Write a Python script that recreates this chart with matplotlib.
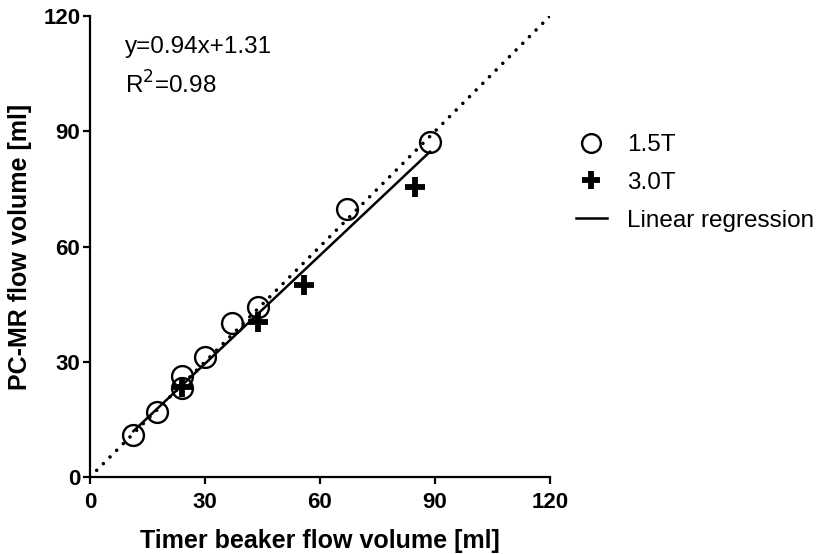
import numpy as np
import matplotlib.pyplot as plt

plt.rcParams['font.family'] = ['Liberation Sans', 'DejaVu Sans']

# 1.5T measurements (timer beaker vs PC-MR), ml
x_15t = [11.3, 17.6, 23.9, 23.9, 30.0, 37.0, 43.7, 67.0, 88.7]
y_15t = [10.9, 17.0, 26.3, 23.1, 31.3, 40.0, 44.3, 69.9, 87.3]

# 3.0T measurements
x_30t = [23.9, 43.7, 55.7, 84.8]
y_30t = [23.5, 40.4, 50.0, 75.6]

slope, intercept = 0.94, 1.31
ticks = [0, 30, 60, 90, 120]

fig = plt.figure(figsize=(8.29, 5.54), dpi=100)
ax = fig.add_axes([0.1086, 0.139, 0.5548, 0.832])

# identity line
ident = np.array([0, 120])
ax.plot(ident, ident, color='black', linestyle=(0, (0.01, 2.6)),
        linewidth=2.6, dash_capstyle='round', zorder=1)

# regression line over the data range
all_x = np.array(x_15t + x_30t)
rx = np.array([all_x.min(), all_x.max()])
ax.plot(rx, slope * rx + intercept, color='black', linewidth=1.8,
        label='Linear regression', zorder=2)

ax.plot(x_15t, y_15t, linestyle='none', marker='o', markersize=15,
        markerfacecolor='none', markeredgecolor='black', markeredgewidth=1.7,
        label='1.5T', zorder=3)
ax.plot(x_30t, y_30t, linestyle='none', marker='+', markersize=15,
        markeredgecolor='black', markeredgewidth=4.2, label='3.0T', zorder=4)

ax.set_xlim(0, 120)
ax.set_ylim(0, 120)
ax.set_xticks(ticks)
ax.set_yticks(ticks)
ax.spines['top'].set_visible(False)
ax.spines['right'].set_visible(False)
for s in ['left', 'bottom']:
    ax.spines[s].set_linewidth(1.6)
ax.tick_params(direction='out', length=5, width=1.6, labelsize=16, pad=2)
ax.tick_params(axis='x', pad=6)
for lab in ax.get_xticklabels() + ax.get_yticklabels():
    lab.set_fontweight('bold')

ax.set_xlabel('Timer beaker flow volume [ml]', fontsize=18, fontweight='bold', labelpad=11)
ax.set_ylabel('PC-MR flow volume [ml]', fontsize=18, fontweight='bold', labelpad=8)

ax.text(9, 112, 'y=0.94x+1.31', fontsize=17.5, va='center')
ax.text(9, 102, r'R$^2$=0.98', fontsize=17.5, va='center')

handles, labels = ax.get_legend_handles_labels()
order = [1, 2, 0]
fig.legend([handles[i] for i in order], [labels[i] for i in order],
           loc='center left', bbox_to_anchor=(0.668, 0.67), frameon=False,
           fontsize=17.5, handlelength=1.3, handletextpad=0.8, labelspacing=0.65,
           markerscale=0.9)

fig.savefig('out.png', dpi=100)
plt.close(fig)
